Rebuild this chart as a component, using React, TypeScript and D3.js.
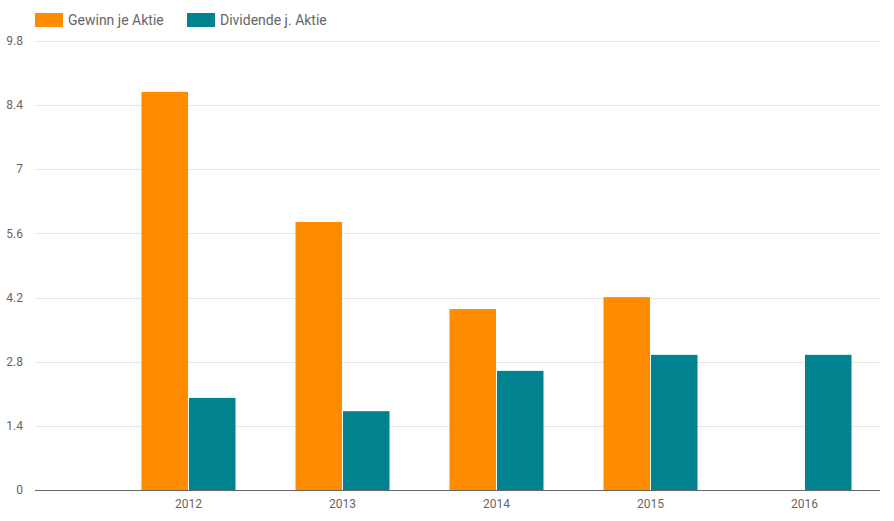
import React from "react";
import * as d3 from "d3";

const categories = ["2012", "2013", "2014", "2015", "2016"];
const seriesNames = ["Gewinn je Aktie", "Dividende j. Aktie"];
const gewinn: (number | null)[] = [8.69, 5.85, 3.95, 4.21, null];
const dividende: (number | null)[] = [2.01, 1.72, 2.6, 2.95, 2.95];
const yTicks = [0, 1.4, 2.8, 4.2, 5.6, 7, 8.4, 9.8];
const colors = ["#FF8C00", "#00838F"];

const W = 894;
const H = 521;
const plotLeft = 35;
const plotRight = 880;
const plotTop = 41;
const plotBottom = 490;

export default function App() {
  const y = d3.scaleLinear().domain([0, 9.8]).range([plotBottom, plotTop]);
  const x0 = d3
    .scaleBand<string>()
    .domain(categories)
    .range([111.5, 881.5])
    .paddingInner(0)
    .paddingOuter(0);
  const groupW = 94;
  const x1 = d3
    .scaleBand<string>()
    .domain(seriesNames)
    .range([0, groupW])
    .paddingInner(0.02);
  const series = [gewinn, dividende];
  const font = "Roboto, 'Noto Sans', sans-serif";

  return (
    <svg
      width={W}
      height={H}
      style={{ position: "absolute", left: 0, top: 0, background: "#fff" }}
    >
      {yTicks.map((t) => (
        <g key={t}>
          {t !== 0 && (
            <line
              x1={plotLeft}
              x2={plotRight}
              y1={Math.round(y(t)) + 0.5}
              y2={Math.round(y(t)) + 0.5}
              stroke="#e6e6e6"
              strokeWidth={1}
            />
          )}
          <text
            x={23}
            y={y(t)}
            dy="0.35em"
            textAnchor="end"
            fontSize={12}
            fill="#666"
            fontFamily={font}
          >
            {String(t)}
          </text>
        </g>
      ))}
      {categories.map((c, i) => {
        const cx = (x0(c) as number) + x0.bandwidth() / 2;
        const gx = cx - groupW / 2;
        return (
          <g key={c}>
            {series.map((s, k) => {
              const v = s[i];
              if (v == null) return null;
              const bx = gx + (x1(seriesNames[k]) as number);
              return (
                <rect
                  key={k}
                  x={bx}
                  y={y(v)}
                  width={x1.bandwidth()}
                  height={y(0) - y(v)}
                  fill={colors[k]}
                />
              );
            })}
            <text
              x={cx}
              y={504}
              dy="0.35em"
              textAnchor="middle"
              fontSize={12}
              fill="#666"
              fontFamily={font}
            >
              {c}
            </text>
          </g>
        );
      })}
      <line
        x1={plotLeft}
        x2={plotRight}
        y1={plotBottom + 0.5}
        y2={plotBottom + 0.5}
        stroke="#666"
        strokeWidth={1}
      />
      {seriesNames.map((n, k) => {
        const lx = k === 0 ? 35 : 187;
        return (
          <g key={n}>
            <rect x={lx} y={13} width={28} height={14} fill={colors[k]} />
            <text
              x={lx + 33}
              y={20}
              dy="0.35em"
              fontSize={14}
              fill="#666"
              fontFamily={font}
            >
              {n}
            </text>
          </g>
        );
      })}
    </svg>
  );
}
